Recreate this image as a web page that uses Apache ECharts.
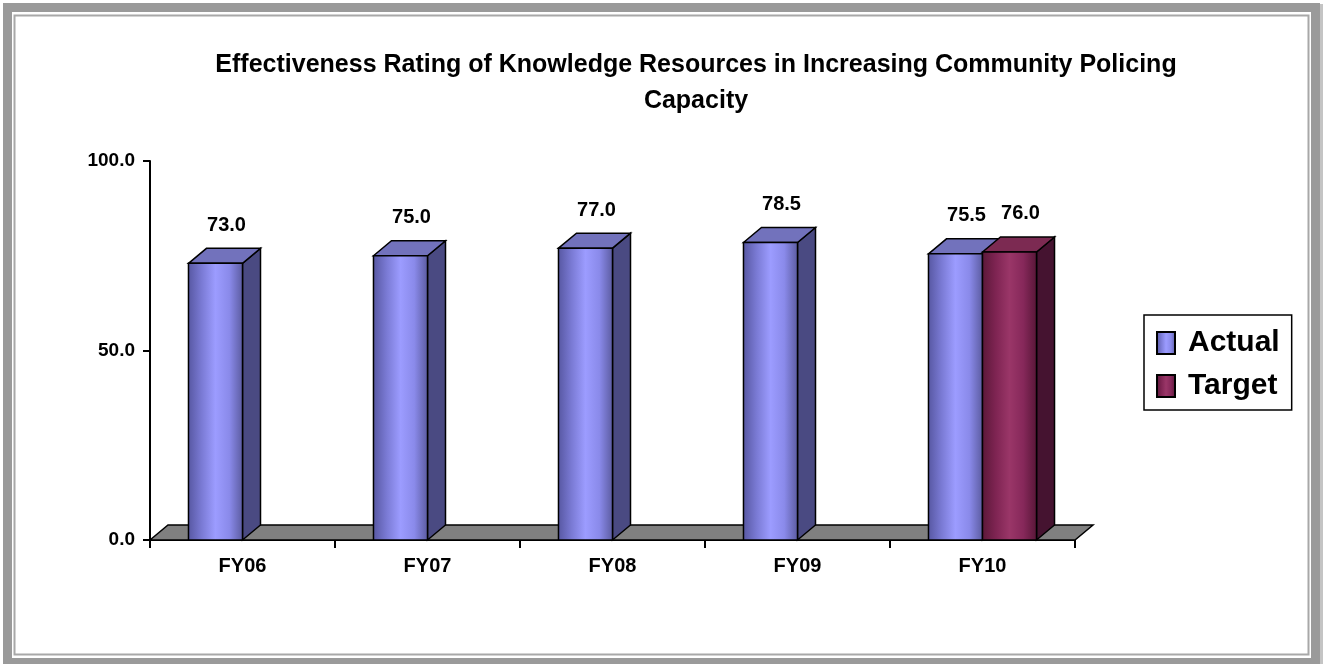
<!DOCTYPE html>
<html>
<head>
<meta charset="utf-8">
<script src="https://cdn.jsdelivr.net/npm/echarts@6/dist/echarts.min.js"></script>
<style>
  html, body { margin: 0; padding: 0; background: #fff; }
  #chart { width: 1327px; height: 664px; }
</style>
</head>
<body>
<div id="chart"></div>
<script>
// chart data
const categories = ['FY06', 'FY07', 'FY08', 'FY09', 'FY10'];
const actualValues = [73.0, 75.0, 77.0, 78.5, 75.5];
const targetValues = [null, null, null, null, 76.0];
const yTicks = [0, 50, 100];

const FONT = 'Liberation Sans, Arial, sans-serif';
const DX = 18;   // depth of the 3d look
const DY = -15;

const palette = {
  Actual: {
    front: ['#5656a0', '#7a7ad4', '#9c9cff', '#8a8aea', '#5a5a9e'],
    side: '#4a4a82',
    top: '#7272bc'
  },
  Target: {
    front: ['#5a1838', '#7e2452', '#9a3668', '#86285a', '#561636'],
    side: '#451330',
    top: '#7c2a52'
  }
};

function gradient(stops) {
  return new echarts.graphic.LinearGradient(0, 0, 1, 0, stops.map(function (c, i) {
    return { offset: i / (stops.length - 1), color: c };
  }));
}

function makeBar(name, slot) {
  const pal = palette[name];
  return function (params, api) {
    const idx = api.value(0);
    const v = api.value(1);
    if (v == null || isNaN(v)) return;
    const base = api.coord([idx, 0]);
    const top = api.coord([idx, v]);
    const band = api.size([1, 0])[0];
    const w = band * 0.292;
    const x0 = slot === 0 ? base[0] - w : base[0];
    const x1 = x0 + w;
    const yb = base[1], yt = top[1];
    const line = { stroke: '#000', lineWidth: 1.5 };
    return {
      type: 'group',
      children: [
        {
          type: 'polygon',
          shape: { points: [[x1, yt], [x1 + DX, yt + DY], [x1 + DX, yb + DY], [x1, yb]] },
          style: Object.assign({ fill: pal.side }, line)
        },
        {
          type: 'polygon',
          shape: { points: [[x0, yt], [x0 + DX, yt + DY], [x1 + DX, yt + DY], [x1, yt]] },
          style: Object.assign({ fill: pal.top }, line)
        },
        {
          type: 'rect',
          shape: { x: x0, y: yt, width: w, height: yb - yt },
          style: Object.assign({ fill: gradient(pal.front) }, line)
        },
        {
          type: 'text',
          style: {
            x: x0 + w / 2 + DX / 2 + 2,
            y: yt + DY - 13,
            text: v.toFixed(1),
            textAlign: 'center',
            textVerticalAlign: 'bottom',
            font: 'bold 20px ' + FONT,
            fill: '#000'
          }
        }
      ]
    };
  };
}

function renderFloor(params, api) {
  const cs = params.coordSys;
  const yb = cs.y + cs.height;
  const xl = cs.x, xr = cs.x + cs.width;
  return {
    type: 'polygon',
    shape: { points: [[xl, yb], [xl + DX, yb + DY], [xr + DX, yb + DY], [xr, yb]] },
    style: { fill: '#808080', stroke: '#000', lineWidth: 1.5 }
  };
}

const chart = echarts.init(document.getElementById('chart'), null, { renderer: 'canvas' });

const option = {
  animation: false,
  backgroundColor: '#fff',
  graphic: [
    {
      type: 'rect', z: 0,
      shape: { x: 7.5, y: 7.5, width: 1308, height: 655 },
      style: { fill: 'none', stroke: '#9a9a9a', lineWidth: 9 }
    },
    {
      type: 'rect', z: 0,
      shape: { x: 1320, y: 4, width: 3, height: 660 },
      style: { fill: '#c4c4c4' }
    },
    {
      type: 'rect', z: 0,
      shape: { x: 14.5, y: 15.5, width: 1294, height: 639 },
      style: { fill: 'none', stroke: '#a8a8a8', lineWidth: 2 }
    },
    {
      type: 'text',
      style: {
        x: 696, y: 47,
        text: 'Effectiveness Rating of Knowledge Resources in Increasing Community Policing\nCapacity',
        textAlign: 'center',
        textVerticalAlign: 'top',
        font: 'bold 25px ' + FONT,
        lineHeight: 36,
        fill: '#000'
      }
    }
  ],
  legend: {
    orient: 'vertical',
    left: 1144,
    top: 315,
    padding: [13, 12, 9, 12],
    itemGap: 13,
    itemWidth: 18,
    itemHeight: 22,
    borderColor: '#000',
    borderWidth: 1.5,
    icon: 'rect',
    textStyle: { fontFamily: FONT, fontWeight: 'bold', fontSize: 30, color: '#000', padding: [0, 0, 0, 8] },
    data: ['Actual', 'Target']
  },
  grid: { left: 150, right: 252, top: 161, bottom: 124 },
  xAxis: {
    type: 'category',
    data: categories,
    axisLine: { lineStyle: { color: '#000', width: 2 } },
    axisTick: { show: true, length: 8, lineStyle: { color: '#000', width: 2 } },
    axisLabel: { margin: 16, fontFamily: FONT, fontWeight: 'bold', fontSize: 20, color: '#000' },
    splitLine: { show: false }
  },
  yAxis: {
    type: 'value',
    min: yTicks[0],
    max: yTicks[yTicks.length - 1],
    interval: yTicks[1] - yTicks[0],
    axisLine: { show: true, lineStyle: { color: '#000', width: 2 } },
    axisTick: { show: true, length: 7, lineStyle: { color: '#000', width: 2 } },
    axisLabel: {
      margin: 15, fontFamily: FONT, fontWeight: 'bold', fontSize: 19, color: '#000',
      formatter: function (val) { return val.toFixed(1); }
    },
    splitLine: { show: false }
  },
  series: [
    {
      type: 'custom',
      name: 'floor',
      silent: true,
      z: 1,
      renderItem: renderFloor,
      data: [[0, 0]]
    },
    {
      type: 'custom',
      name: 'Actual',
      z: 2,
      itemStyle: { color: gradient(palette.Actual.front), borderColor: '#000', borderWidth: 1.5 },
      renderItem: makeBar('Actual', 0),
      encode: { x: 0, y: 1 },
      data: actualValues.map(function (v, i) { return [i, v]; })
    },
    {
      type: 'custom',
      name: 'Target',
      z: 3,
      itemStyle: { color: gradient(palette.Target.front), borderColor: '#000', borderWidth: 1.5 },
      renderItem: makeBar('Target', 1),
      encode: { x: 0, y: 1 },
      data: targetValues.map(function (v, i) { return [i, v == null ? '-' : v]; })
    }
  ]
};

chart.setOption(option);
</script>
</body>
</html>
